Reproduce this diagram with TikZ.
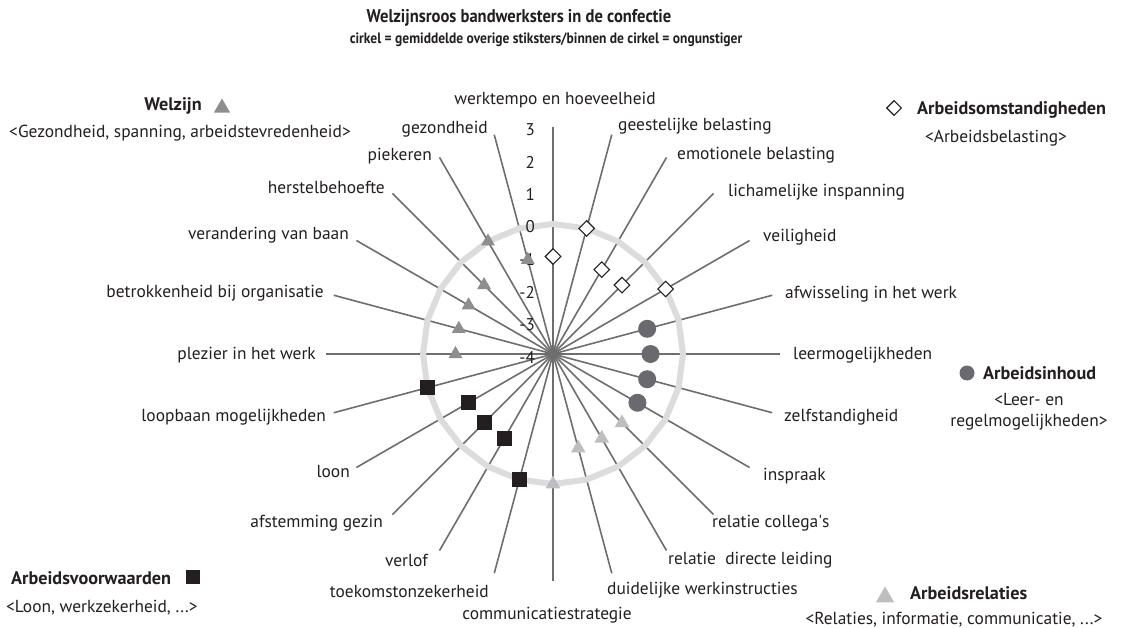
\documentclass[tikz,border=0pt]{standalone}
\usepackage{fontspec}
\setmainfont{PT Sans}
\newfontfamily\titlefont[FakeStretch=0.9]{PT Sans}
\usetikzlibrary{shapes.geometric}
\definecolor{ink}{HTML}{231F20}
\definecolor{spokegray}{HTML}{6E6E6E}
\definecolor{ringgray}{HTML}{DCDCDC}
\definecolor{dotgray}{HTML}{6A6A6E}
\definecolor{welgray}{HTML}{8E8E8E}
\definecolor{relgray}{HTML}{BEBEC0}
\tikzset{
  lbl/.style={font=\fontsize{17.4}{20}\selectfont, text=ink, inner sep=0pt, text height=12pt, text depth=3pt},
  leg/.style={font=\bfseries\fontsize{18.2}{20}\selectfont, text=ink, inner sep=0pt, text height=12pt, text depth=3pt},
  sub/.style={font=\fontsize{17.4}{21}\selectfont, text=ink, inner sep=0pt},
  scl/.style={font=\fontsize{17}{18}\selectfont, text=ink, inner sep=0pt, anchor=east},
  spoke/.style={draw=spokegray, line width=1.6pt},
  ring/.style={draw=ringgray, line width=6pt},
  mdiam/.style={diamond, draw=ink, fill=white, line width=1.1pt, minimum width=16pt, minimum height=16pt, inner sep=0pt},
  mdot/.style={circle, fill=dotgray, minimum size=18pt, inner sep=0pt},
  mwel/.style={regular polygon, regular polygon sides=3, fill=welgray, minimum size=16pt, inner sep=0pt},
  mrel/.style={regular polygon, regular polygon sides=3, fill=relgray, minimum size=17pt, inner sep=0pt},
  msq/.style={rectangle, fill=ink, minimum size=15pt, inner sep=0pt},
}
\begin{document}
\begin{tikzpicture}[x=1pt,y=-1pt]
\useasboundingbox (0,0) rectangle (1123,628);
\path[fill=white] (0,0) rectangle (1123,628);

% titles
\node[font=\titlefont\bfseries\fontsize{18.4}{20}\selectfont, text=ink, inner sep=0pt] (title) at (519,18) {Welzijnsroos bandwerksters in de confectie};
\node[font=\titlefont\bfseries\fontsize{15}{16}\selectfont, text=ink, inner sep=0pt] (subtitle) at (546,40) {cirkel = gemiddelde overige stiksters/binnen de cirkel = ongunstiger};

% spokes
\coordinate (c) at (553,354);
\begin{scope}[shift={(553,354)}, y=1pt]
  \foreach \k in {0,...,23} { \coordinate (e\k) at ({90-15*\k}:227); }
  \foreach \k in {0,...,23} { \draw[spoke] (0,0) -- (e\k); }
  \draw[ring] (90:130) \foreach \k in {1,...,23} { -- ({90-15*\k}:130) } -- cycle;
\end{scope}

% scale
\foreach \v/\t in {3/3,2/2,1/1,0/0,-1/-1,-2/-2,-3/-3,-4/-4} {
  \node[scl] (s\t) at (535,{354-(\v+4)*32.5+3}) {\t};
}

% spoke labels
\node[lbl] (l0) at (555,100) {werktempo en hoeveelheid};
\node[lbl, anchor=west] (l1) at (618,126) {geestelijke belasting};
\node[lbl, anchor=west] (l2) at (677,155) {emotionele belasting};
\node[lbl, anchor=west] (l3) at (728,192) {lichamelijke inspanning};
\node[lbl, anchor=west] (l4) at (763,237) {veiligheid};
\node[lbl, anchor=west] (l5) at (785,294) {afwisseling in het werk};
\node[lbl, anchor=west] (l6) at (793,355) {leermogelijkheden};
\node[lbl, anchor=west] (l7) at (784,417) {zelfstandigheid};
\node[lbl, anchor=west] (l8) at (763,476) {inspraak};
\node[lbl, anchor=west] (l9) at (712,523) {relatie collega\textquotesingle s};
\node[lbl, anchor=west] (l10) at (668,560) {relatie\ \ directe leiding};
\node[lbl, anchor=west] (l11) at (607,590) {duidelijke werkinstructies};
\node[lbl] (l12) at (547,615) {communicatiestrategie};
\node[lbl, anchor=east] (l13) at (489,593) {toekomstonzekerheid};
\node[lbl, anchor=east] (l14) at (428,562) {verlof};
\node[lbl, anchor=east] (l15) at (383,523) {afstemming gezin};
\node[lbl, anchor=east] (l16) at (350,473) {loon};
\node[lbl, anchor=east] (l17) at (326,417) {loopbaan mogelijkheden};
\node[lbl, anchor=east] (l18) at (316,355) {plezier in het werk};
\node[lbl, anchor=east] (l19) at (324,293) {betrokkenheid bij organisatie};
\node[lbl, anchor=east] (l20) at (349,235) {verandering van baan};
\node[lbl, anchor=east] (l21) at (385,189) {herstelbehoefte};
\node[lbl, anchor=east] (l22) at (432,156) {piekeren};
\node[lbl, anchor=east] (l23) at (488,129) {gezondheid};

% data markers
\begin{scope}[shift={(553,354)}, y=1pt]
  \foreach \k/\v in {0/-1,1/0,2/-1,3/-1,4/0} { \node[mdiam] (m\k) at ({90-15*\k}:{(\v+4)*32.5}) {}; }
  \foreach \k/\v in {5/-1,6/-1,7/-1,8/-1} { \node[mdot] (m\k) at ({90-15*\k}:{(\v+4)*32.5}) {}; }
  \foreach \k/\v in {9/-1,10/-1,11/-1,12/0} { \node[mrel] (m\k) at ({90-15*\k}:{(\v+4)*32.5}) {}; }
  \foreach \k/\v in {13/0,14/-1,15/-1,16/-1,17/0} { \node[msq] (m\k) at ({90-15*\k}:{(\v+4)*32.5}) {}; }
  \foreach \k/\v in {18/-1,19/-1,20/-1,21/-1,22/0,23/-1} { \node[mwel] (m\k) at ({90-15*\k}:{(\v+4)*32.5}) {}; }
\end{scope}

% legends
\node[leg] (welz) at (173,106) {Welzijn};
\node[mwel, minimum size=19pt] (welzm) at (222,108) {};
\node[sub] (welzs) at (180,133) {<Gezondheid, spanning, arbeidstevredenheid>};

\node[mdiam, minimum width=15pt, minimum height=15pt] (omstm) at (894,108) {};
\node[leg, anchor=west] (omst) at (917,110) {Arbeidsomstandigheden};
\node[sub] (omsts) at (996,138) {<Arbeidsbelasting>};

\node[mdot, minimum size=15pt] (inhm) at (967,373) {};
\node[leg, anchor=west] (inh) at (983,375) {Arbeidsinhoud};
\node[sub, align=center] (inhs) at (1029,412) {<Leer- en\\regelmogelijkheden>};

\node[mrel, minimum size=21pt] (relm) at (885,597) {};
\node[leg, anchor=west] (rel) at (910,595) {Arbeidsrelaties};
\node[sub] (rels) at (954,620) {<Relaties, informatie, communicatie, ...>};

\node[leg, anchor=west] (voorw) at (11,580) {Arbeidsvoorwaarden};
\node[msq, minimum size=14pt] (voorwm) at (193,577) {};
\node[sub, anchor=west] (voorws) at (6,608) {<Loon, werkzekerheid, ...>};
\end{tikzpicture}
\end{document}
